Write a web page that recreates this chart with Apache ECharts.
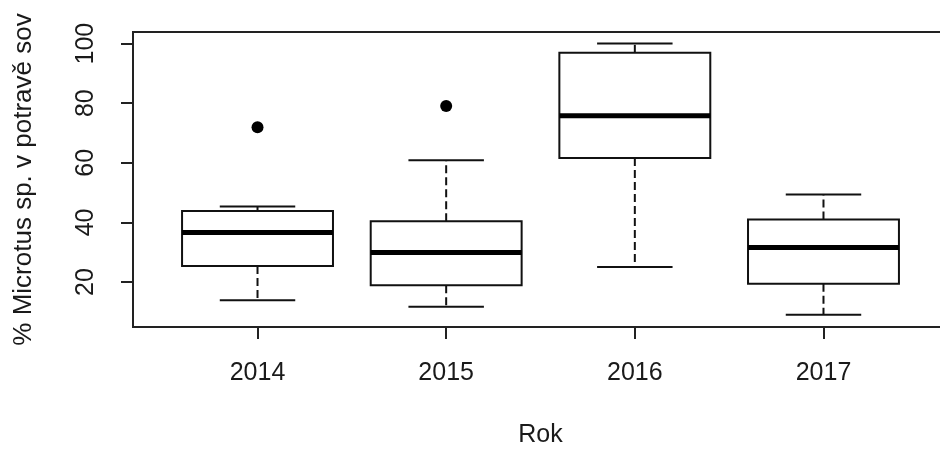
<!DOCTYPE html>
<html>
<head>
<meta charset="utf-8">
<script src="https://cdn.jsdelivr.net/npm/echarts@6/dist/echarts.min.js"></script>
<style>
  html, body { margin: 0; padding: 0; background: #fff; overflow: hidden; }
  /* the plotting frame runs past the right edge of the 940px view */
  #chart { width: 960px; height: 453px; }
</style>
</head>
<body>
<div id="chart"></div>
<script>
// Five-number summaries per year (share of Microtus sp. in owl diet, %)
const years = ['2014', '2015', '2016', '2017'];
const whiskerLow = [13.9, 11.7, 25.0, 9.0];
const q1 = [25.4, 18.9, 61.6, 19.4];
const median = [36.6, 29.9, 75.8, 31.6];
const q3 = [43.8, 40.4, 96.9, 41.0];
const whiskerHigh = [45.3, 60.9, 100.0, 49.4];

// Outlying observations
const outlierYearIndex = [1, 2];
const outlierValue = [71.9, 79.1];

// Axis ticks
const yTicks = [20, 40, 60, 80, 100];
const xTicks = years.map((_, i) => i + 1);

const boxData = years.map((_, i) => [i + 1, whiskerLow[i], q1[i], median[i], q3[i], whiskerHigh[i]]);
const outlierData = outlierYearIndex.map((x, i) => [x, outlierValue[i]]);

const ink = '#111';
const font = 'Liberation Sans, Arial, Helvetica, sans-serif';

function renderBox(params, api) {
  const x = api.value(0);
  const lo = api.value(1), b1 = api.value(2), md = api.value(3), b3 = api.value(4), hi = api.value(5);
  const halfBox = 0.4, halfCap = 0.2;
  const pLT = api.coord([x - halfBox, b3]);
  const pRB = api.coord([x + halfBox, b1]);
  const pc = (v) => api.coord([x, v]);
  const capL = (v) => api.coord([x - halfCap, v]);
  const capR = (v) => api.coord([x + halfCap, v]);
  const solid = { stroke: ink, lineWidth: 2, fill: null };
  const dashed = { stroke: ink, lineWidth: 2, lineDash: [8, 4], fill: null };
  return {
    type: 'group',
    children: [
      { type: 'line', shape: { x1: pc(b3)[0], y1: pc(b3)[1], x2: pc(hi)[0], y2: pc(hi)[1] }, style: dashed },
      { type: 'line', shape: { x1: pc(b1)[0], y1: pc(b1)[1], x2: pc(lo)[0], y2: pc(lo)[1] }, style: dashed },
      { type: 'line', shape: { x1: capL(hi)[0], y1: capL(hi)[1], x2: capR(hi)[0], y2: capR(hi)[1] }, style: solid },
      { type: 'line', shape: { x1: capL(lo)[0], y1: capL(lo)[1], x2: capR(lo)[0], y2: capR(lo)[1] }, style: solid },
      { type: 'rect', shape: { x: pLT[0], y: pLT[1], width: pRB[0] - pLT[0], height: pRB[1] - pLT[1] },
        style: { stroke: ink, lineWidth: 2, fill: '#fff' } },
      { type: 'line', shape: { x1: pLT[0], y1: pc(md)[1], x2: pRB[0], y2: pc(md)[1] },
        style: { stroke: '#000', lineWidth: 5 } }
    ]
  };
}

const chart = echarts.init(document.getElementById('chart'), null, { renderer: 'canvas' });
chart.setOption({
  backgroundColor: '#fff',
  animation: false,
  grid: {
    left: 133, top: 32, right: 12, bottom: 124,
    show: true, borderColor: '#222', borderWidth: 2, backgroundColor: 'transparent'
  },
  xAxis: {
    type: 'value', min: 0.34, max: 4.66,
    name: 'Rok', nameLocation: 'middle', nameGap: 96,
    nameTextStyle: { fontFamily: font, fontSize: 25, color: '#1a1a1a' },
    axisLine: { show: false },
    splitLine: { show: false },
    axisTick: { show: true, customValues: xTicks, length: 12, lineStyle: { color: '#222', width: 2 } },
    axisLabel: {
      customValues: xTicks, margin: 34,
      fontFamily: font, fontSize: 25, color: '#1a1a1a',
      formatter: (v) => years[Math.round(v) - 1] || ''
    }
  },
  yAxis: {
    type: 'value', min: 4.9, max: 103.9,
    name: '% Microtus sp. v potravě sov', nameLocation: 'middle', nameGap: 96,
    nameTextStyle: { fontFamily: font, fontSize: 26, color: '#1a1a1a' },
    axisLine: { show: false },
    splitLine: { show: false },
    axisTick: { show: true, customValues: yTicks, length: 12, lineStyle: { color: '#222', width: 2 } },
    axisLabel: {
      customValues: yTicks, rotate: 90, margin: 34,
      fontFamily: font, fontSize: 25, color: '#1a1a1a'
    }
  },
  series: [
    {
      type: 'custom',
      renderItem: renderBox,
      data: boxData,
      encode: { x: 0, y: [1, 2, 3, 4, 5] },
      z: 2
    },
    {
      type: 'scatter',
      data: outlierData,
      symbol: 'circle',
      symbolSize: 12,
      itemStyle: { color: '#000', opacity: 1 },
      z: 3
    }
  ]
});
</script>
</body>
</html>
